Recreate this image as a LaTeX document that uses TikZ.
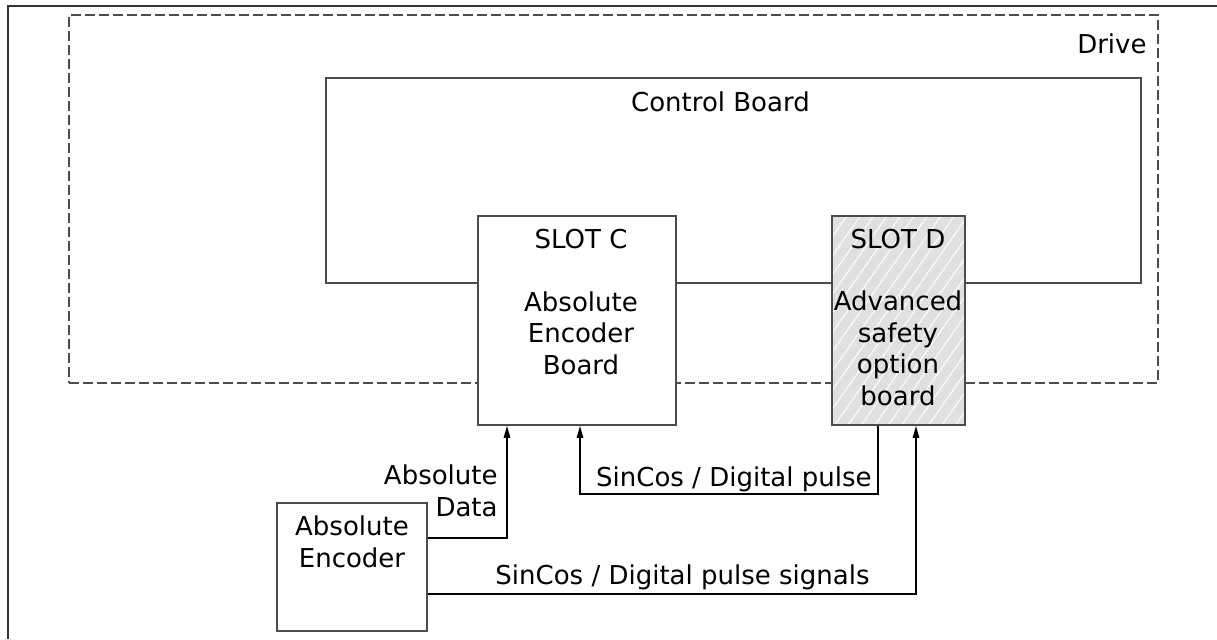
\documentclass[tikz,border=0pt]{standalone}
\usepackage{fontspec}
\setmainfont{DejaVu Sans}
\usetikzlibrary{arrows.meta,patterns.meta}

\begin{document}
\begin{tikzpicture}[x=0.5pt, y=-0.5pt, font=\fontsize{13}{15.75}\selectfont,
    box/.style={draw=black!70, line width=0.8pt, inner sep=0pt},
    sig/.style={line width=0.8pt, -{Triangle[length=6pt,width=3.2pt]}},
    txt/.style={inner sep=0pt, align=center}]
    \useasboundingbox (0,0) rectangle (1217,639);
    \draw[black!80, line width=0.8pt] (8,639) |- (1217,6); % frame

    % boards
    \node[box, dashed, dash pattern=on 5pt off 2pt, minimum width=544.5pt, minimum height=184pt] (drive) at (613.5,199) {};
    \node[box, minimum width=407.5pt, minimum height=102.5pt] (ctrl) at (733.5,180.5) {};
    \node[box, fill=white, minimum width=99pt, minimum height=104.5pt] (slotc) at (577,320.5) {};
    \node[box, preaction={fill=black!12}, preaction={pattern={Lines[angle=55,distance=5.5pt,line width=0.5pt]}, pattern color=white},
        minimum width=66.5pt, minimum height=104.5pt] (slotd) at (898.5,320.5) {};
    \node[box, minimum width=75pt, minimum height=64pt] (enc) at (352,567) {};

    % texts (base = last line)
    \node[txt, anchor=base east] (drivetxt) at (1147,53) {Drive};
    \node[txt, anchor=base] (ctrltxt) at (720.5,111) {Control Board};
    \node[txt, anchor=base] (slotctxt) at (581,248) {SLOT C};
    \node[txt, anchor=base] (slotcname) at (581,374) {Absolute\\Encoder\\Board};
    \node[txt, anchor=base] (slotdtxt) at (898,248) {SLOT D};
    \node[txt, anchor=base] (slotdname) at (898,405) {Advanced\\safety\\option\\board};
    \node[txt, anchor=base] (encname) at (352,567) {Absolute\\Encoder};

    % signals
    \draw[sig] ([yshift=14.5pt]enc.east) -| ([xshift=-35pt]slotc.south);
    \coordinate (bend) at (580,494);
    \draw[sig] ([xshift=-10.25pt]slotd.south) |- (bend) -- (bend |- slotc.south);
    \draw[sig] ([yshift=-13.5pt]enc.east) -| ([xshift=8.75pt]slotd.south);

    \node[txt, align=right, anchor=base east] (abslbl) at (498,516) {Absolute\\Data};
    \node[txt, anchor=base east] (pulselbl) at (872,486) {SinCos / Digital pulse};
    \node[txt, anchor=base east] (siglbl) at (870,584) {SinCos / Digital pulse signals};
\end{tikzpicture}
\end{document}
